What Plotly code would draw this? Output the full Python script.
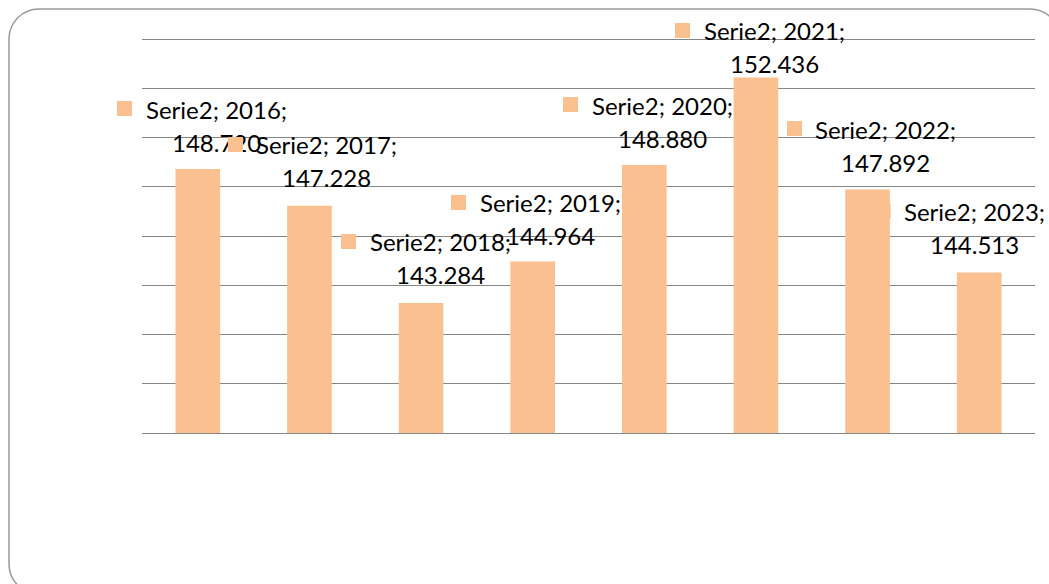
import plotly.graph_objects as go

# ---- data ----
series_name = "Serie2"
years = [2016, 2017, 2018, 2019, 2020, 2021, 2022, 2023]
values = [148.720, 147.228, 143.284, 144.964, 148.880, 152.436, 147.892, 144.513]
y_min, y_max, y_step = 138, 154, 2

# ---- styling / layout ----
BAR_COLOR = "#FAC090"
GRID_COLOR = "#868686"
FONT = "Lato"
W, H = 1049, 584
PAD = 2  # px of padding so the edge gridlines are drawn
PX_PER_UNIT = 394 / (y_max - y_min)
EXT = PAD / PX_PER_UNIT
ML, MR, MT, MB = 142, 14, 39 - PAD, 151 - PAD
PW, PH = W - ML - MR, H - MT - MB

# label offsets (pixels) relative to the bar top-centre
LABEL_DX = [18.5, 17.5, 19, 17.5, 18, 18.5, 18, -4.5]
LABEL_DY = [59, 60, 60, 58, 59, 46, 59, 60]
LINE_GAP = 33


def paper(px, py):
    return (px - ML) / PW, (MT + PH - py) / PH


fig = go.Figure()
fig.add_trace(go.Bar(x=years, y=[v - y_min for v in values], base=y_min, width=0.4,
                     marker=dict(color=BAR_COLOR, line=dict(width=0)), hoverinfo="skip"))

annotations = []
shapes = []
txt_font = dict(family=FONT, size=24, color="#000000")
for i, (yr, v) in enumerate(zip(years, values)):
    dx, dy = LABEL_DX[i], LABEL_DY[i]
    # legend-key square
    if i < len(years) - 1:
        annotations.append(dict(
            x=yr, y=v, xref="x", yref="y", text=" ", showarrow=False,
            xanchor="center", yanchor="middle", xshift=dx - 91.5, yshift=dy + 1.5,
            width=15, height=15, bgcolor=BAR_COLOR, borderpad=0, borderwidth=0,
            font=dict(size=1),
        ))
    else:
        shapes.append(dict(
            type="rect", xref="x", yref="y", xsizemode="pixel", ysizemode="pixel",
            xanchor=yr, yanchor=v, x0=dx - 99, x1=dx - 84, y0=dy - 6, y1=dy + 9,
            fillcolor=BAR_COLOR, line=dict(width=0), layer="below",
        ))
    annotations.append(dict(
        x=yr, y=v, xref="x", yref="y", text=f"{series_name}; {yr};", showarrow=False,
        xanchor="center", yanchor="middle", xshift=dx, yshift=dy + 1, font=txt_font,
    ))
    annotations.append(dict(
        x=yr, y=v, xref="x", yref="y", text=f"{v:.3f}", showarrow=False,
        xanchor="center", yanchor="middle", xshift=dx, yshift=dy + 1 - LINE_GAP, font=txt_font,
    ))

# rounded outer border
x0, y0, x1, y1, r = 9, 9, 1060, 594, 30
k = 0.5523 * r


def P(px, py):
    a, b = paper(px, py)
    return f"{a:.5f},{b:.5f}"


path = (
    f"M {P(x0 + r, y0)} L {P(x1 - r, y0)} "
    f"C {P(x1 - r + k, y0)} {P(x1, y0 + r - k)} {P(x1, y0 + r)} "
    f"L {P(x1, y1 - r)} "
    f"C {P(x1, y1 - r + k)} {P(x1 - r + k, y1)} {P(x1 - r, y1)} "
    f"L {P(x0 + r, y1)} "
    f"C {P(x0 + r - k, y1)} {P(x0, y1 - r + k)} {P(x0, y1 - r)} "
    f"L {P(x0, y0 + r)} "
    f"C {P(x0, y0 + r - k)} {P(x0 + r - k, y0)} {P(x0 + r, y0)} Z"
)
shapes.append(dict(type="path", xref="paper", yref="paper", path=path,
                   line=dict(color="#9a9a9a", width=1.5), fillcolor="rgba(0,0,0,0)", layer="above"))

fig.update_layout(
    width=W, height=H,
    margin=dict(l=ML, r=MR, t=MT, b=MB, autoexpand=False),
    paper_bgcolor="white", plot_bgcolor="white",
    showlegend=False,
    xaxis=dict(range=[years[0] - 0.5, years[-1] + 0.5], showticklabels=False, showgrid=False,
               zeroline=False, showline=False, ticks="", fixedrange=True),
    yaxis=dict(range=[y_min - EXT, y_max + EXT], dtick=y_step, tick0=y_min, showticklabels=False,
               showgrid=True, gridcolor=GRID_COLOR, gridwidth=1, zeroline=False, showline=False,
               ticks="", fixedrange=True),
    annotations=annotations,
    shapes=shapes,
    font=dict(family=FONT),
)

fig.write_html(
    "out.html",
    config={"displayModeBar": False},
    post_script="document.body.style.margin='0';document.body.style.overflow='hidden';",
)
